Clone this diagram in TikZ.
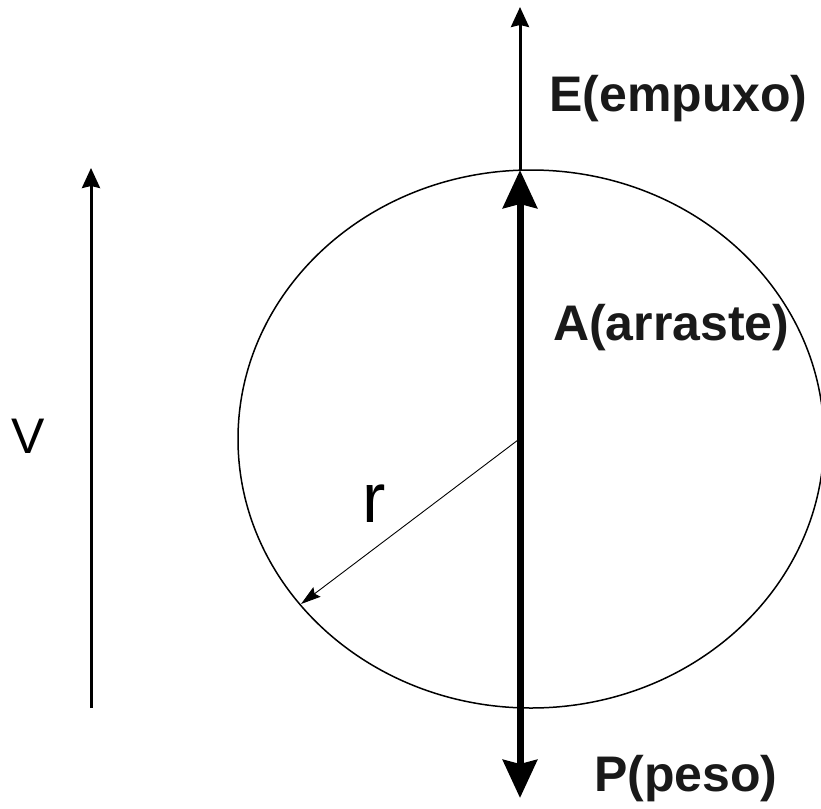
\documentclass[tikz,border=0pt]{standalone}
\usepackage{fontspec}
\setmainfont{Liberation Sans}
\usetikzlibrary{arrows.meta,shapes.geometric}
\begin{document}
\begin{tikzpicture}[x=1pt,y=-1pt,
  lbl/.style={font=\fontsize{50}{50}\selectfont\bfseries, anchor=base west, inner sep=0pt, text=black!90},
  thinarrow/.style={line width=3pt, -{Stealth[length=20pt,width=18pt,inset=2pt]}},
  thickarrow/.style={line width=7pt, {Stealth[length=38pt,width=34pt,inset=4pt]}-{Stealth[length=38pt,width=34pt,inset=4pt]}},
  radarrow/.style={line width=0.9pt, -{Stealth[length=20pt,width=12pt,inset=3pt]}}]
\useasboundingbox (0,0) rectangle (821,808);
% sphere
\node[ellipse, draw, line width=1.5pt, minimum width=586pt, minimum height=538pt, inner sep=0pt, outer sep=0pt] (ball) at (531,439) {};
% coordinates
\coordinate (top) at (520,170);
\coordinate (Etip) at (520,7);
\coordinate (bot) at (520,798);
\coordinate (ctr) at (518,440);
\coordinate (rim) at (301,604);
\coordinate (Vbot) at (91,708);
\coordinate (Vtop) at (91,168);
% arrows
\draw[thinarrow] (top) -- (Etip);
\draw[thickarrow] (bot) -- (top);
\draw[radarrow] (ctr) -- (rim);
\draw[thinarrow] (Vbot) -- (Vtop);
% labels
\node[lbl] (E) at (549,111) {E(empuxo)};
\node[lbl] (A) at (553,340) {A(arraste)};
\node[lbl] (P) at (594,791) {P(peso)};
\node[font=\fontsize{50}{50}\selectfont, anchor=base west, inner sep=0pt] (V) at (11,453) {V};
\node[font=\fontsize{70}{70}\selectfont, anchor=base west, inner sep=0pt] (r) at (362,522) {r};
\end{tikzpicture}
\end{document}
